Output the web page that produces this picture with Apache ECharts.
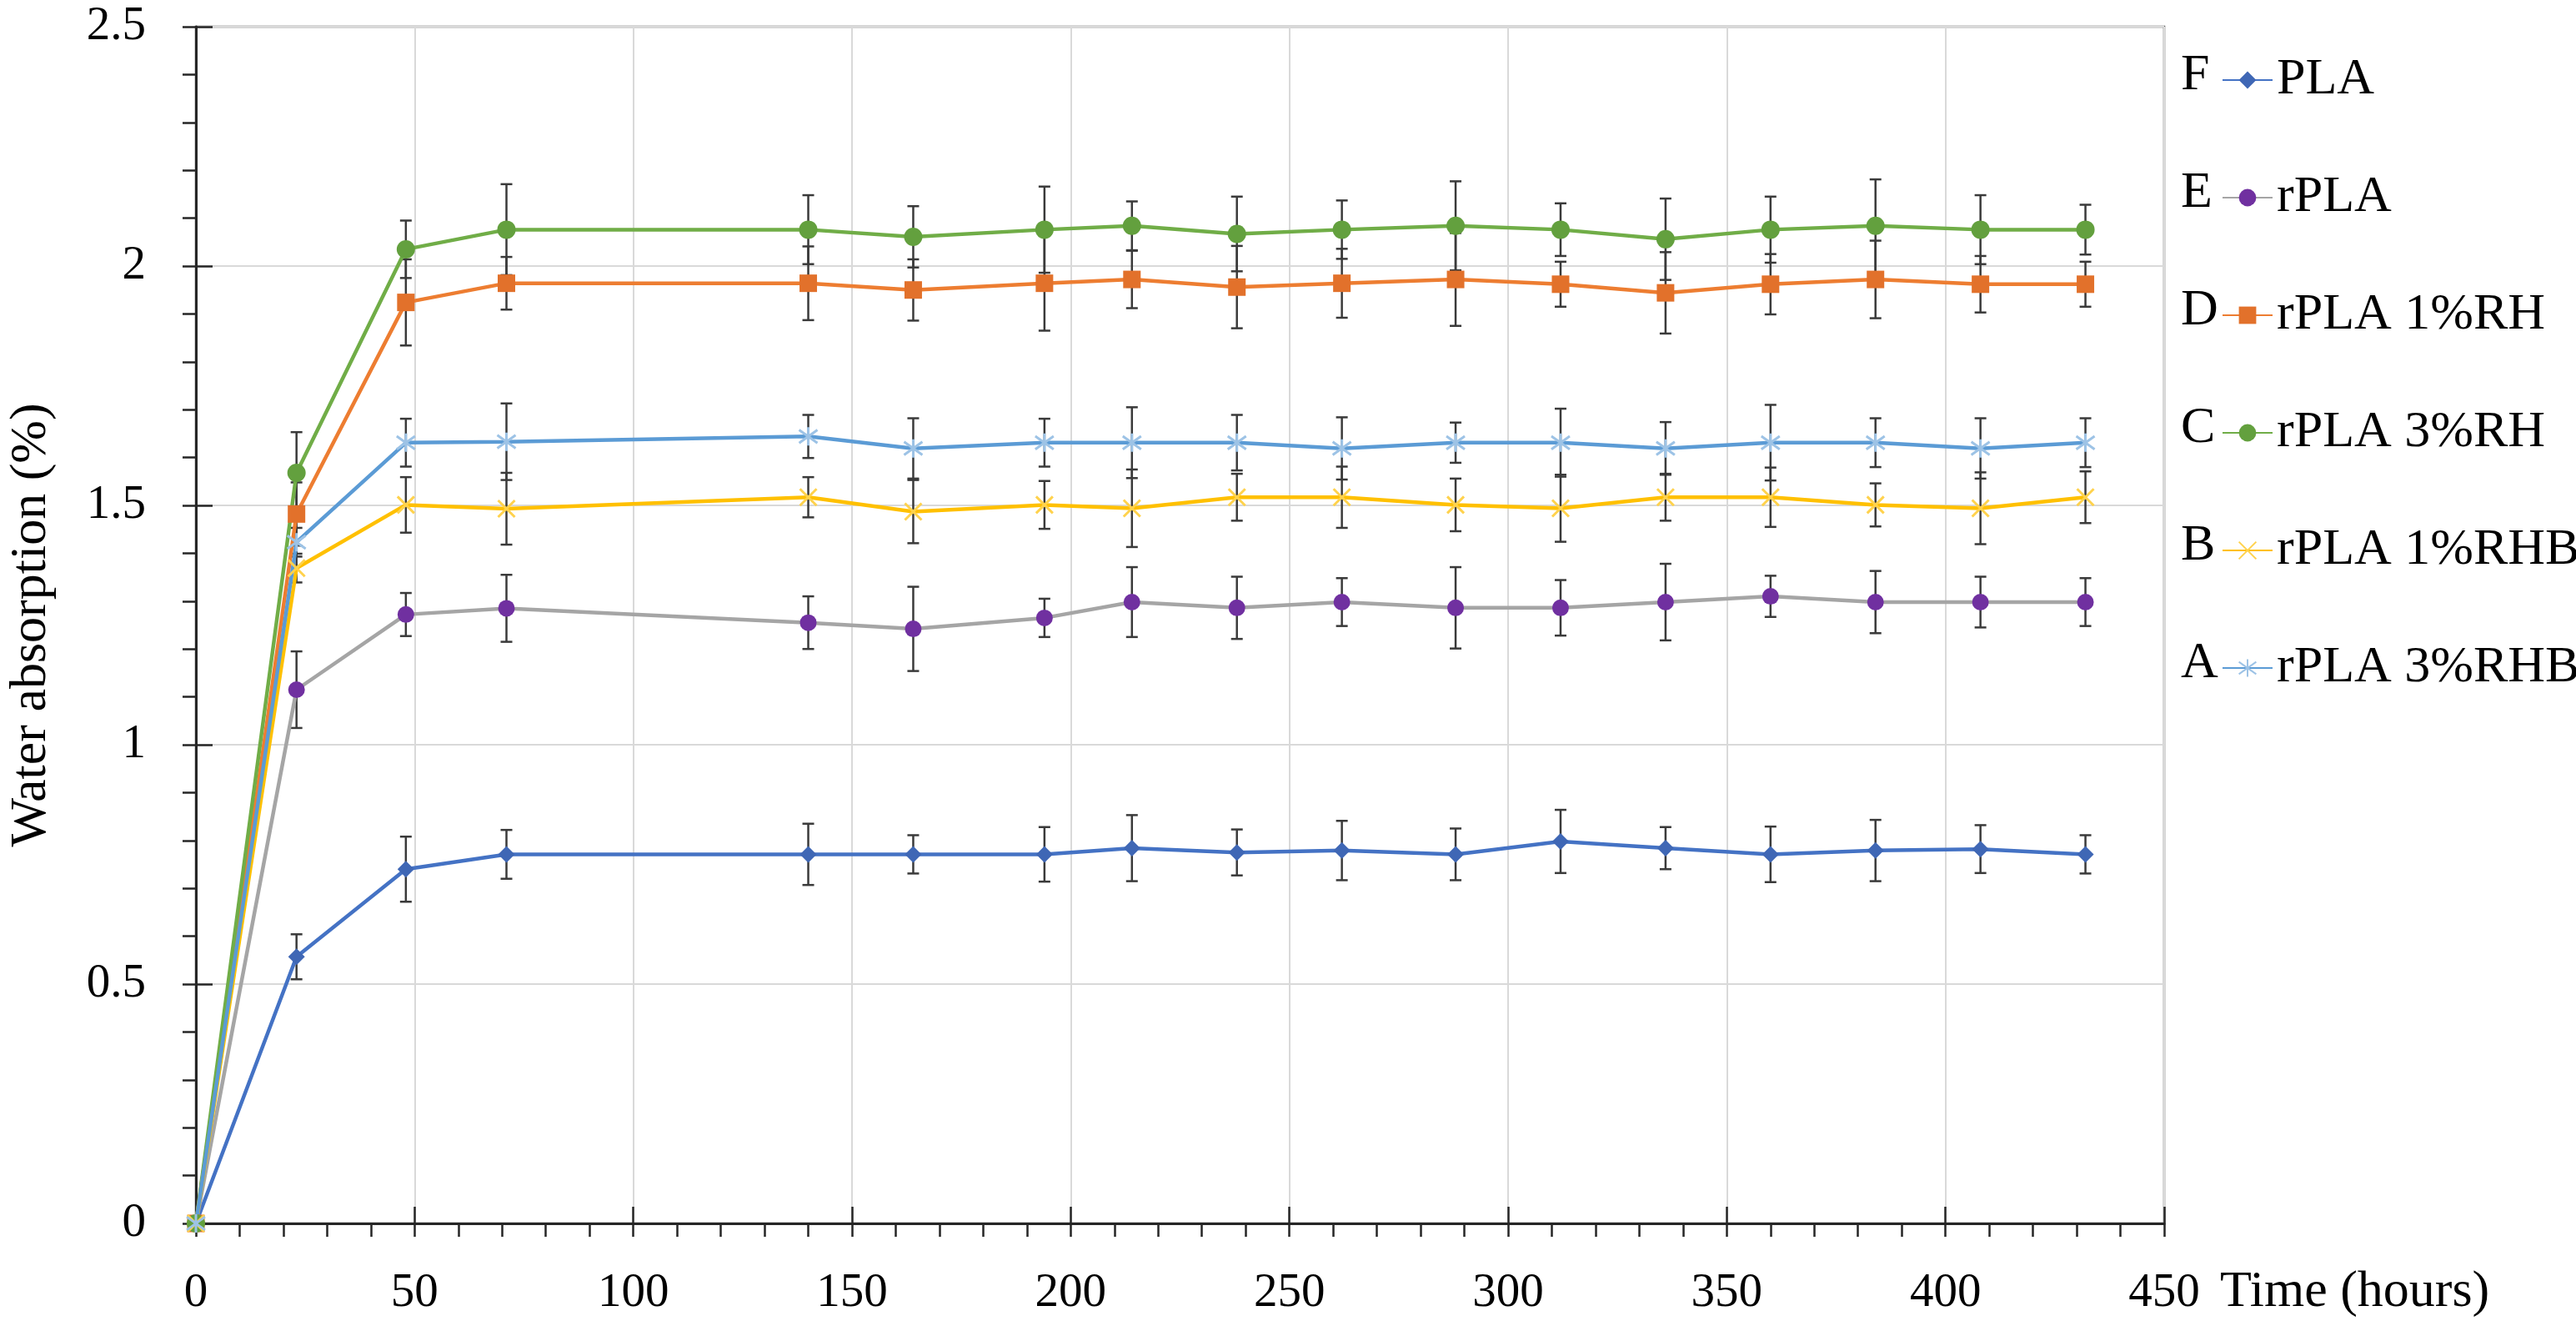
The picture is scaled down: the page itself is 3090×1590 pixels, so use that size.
<!DOCTYPE html>
<html>
<head>
<meta charset="utf-8">
<script src="https://cdn.jsdelivr.net/npm/echarts@6/dist/echarts.min.js"></script>
<style>
  html,body{margin:0;padding:0;background:#fff;}
  #main{width:3090px;height:1590px;}
</style>
</head>
<body>
<div id="main"></div>
<script>
var hours=[0,23,48,71,140,164,194,214,238,262,288,312,336,360,384,408,432];

var pla=[0,0.557,0.740,0.771,0.771,0.771,0.771,0.784,0.775,0.779,0.771,0.798,0.784,0.771,0.779,0.782,0.771];
var plaErr=[0,0.047,0.068,0.051,0.064,0.040,0.057,0.069,0.048,0.062,0.054,0.066,0.044,0.058,0.064,0.050,0.040];

var rpla=[0,1.115,1.272,1.285,1.255,1.242,1.265,1.298,1.286,1.298,1.286,1.286,1.298,1.310,1.298,1.298,1.298];
var rplaErr=[0,0.080,0.045,0.070,0.055,0.088,0.040,0.073,0.065,0.050,0.085,0.058,0.080,0.043,0.065,0.053,0.050];

var rh1=[0,1.482,1.924,1.964,1.964,1.950,1.964,1.972,1.956,1.964,1.972,1.962,1.944,1.962,1.972,1.962,1.962];
var rh1Err=[0,0.066,0.090,0.055,0.077,0.064,0.099,0.060,0.086,0.072,0.097,0.047,0.085,0.063,0.081,0.059,0.047];

var rh3=[0,1.568,2.035,2.076,2.076,2.061,2.076,2.084,2.067,2.076,2.084,2.076,2.056,2.076,2.084,2.076,2.076];
var rh3Err=[0,0.085,0.060,0.095,0.072,0.064,0.090,0.051,0.078,0.061,0.093,0.055,0.085,0.069,0.097,0.072,0.052];

var rhb1=[0,1.369,1.501,1.493,1.517,1.487,1.501,1.494,1.517,1.517,1.501,1.494,1.517,1.517,1.501,1.494,1.517];
var rhb1Err=[0,0.030,0.058,0.075,0.042,0.066,0.050,0.081,0.049,0.064,0.055,0.070,0.049,0.062,0.045,0.075,0.054];

var rhb3=[0,1.423,1.631,1.633,1.644,1.619,1.631,1.631,1.631,1.619,1.631,1.631,1.619,1.631,1.631,1.619,1.631];
var rhb3Err=[0,0.030,0.050,0.080,0.045,0.063,0.050,0.074,0.058,0.065,0.042,0.071,0.055,0.079,0.051,0.063,0.051];

var names=["PLA","rPLA","rPLA 1%RH","rPLA 3%RH","rPLA 1%RHB","rPLA 3%RHB"];
var letters=["F","E","D","C","B","A"];

var FONT="Liberation Serif";

function pairs(values){
    var out=[];
    for(var i=0;i<hours.length;i++){
        out.push([hours[i],values[i]]);
    }
    return out;
}

function lineSeries(name,values,lineColor,symbol,size,itemStyle){
    return {
        name:name,
        type:'line',
        z:3,
        data:pairs(values),
        symbol:symbol,
        symbolSize:size,
        lineStyle:{color:lineColor,width:4.5},
        itemStyle:itemStyle,
        emphasis:{disabled:true}
    };
}

function errorSeries(values,errs){
    var data=[];
    for(var i=0;i<hours.length;i++){
        if(errs[i]>0){
            data.push([hours[i],values[i]-errs[i],values[i]+errs[i]]);
        }
    }
    return {
        type:'custom',
        z:2,
        silent:true,
        encode:{x:0,y:[1,2]},
        data:data,
        renderItem:function(params,api){
            var lo=api.coord([api.value(0),api.value(1)]);
            var hi=api.coord([api.value(0),api.value(2)]);
            var w=7;
            var st={stroke:'#3a3a3a',lineWidth:2.5};
            return {type:'group',children:[
                {type:'line',shape:{x1:hi[0],y1:hi[1],x2:lo[0],y2:lo[1]},style:st},
                {type:'line',shape:{x1:hi[0]-w,y1:hi[1],x2:hi[0]+w,y2:hi[1]},style:st},
                {type:'line',shape:{x1:lo[0]-w,y1:lo[1],x2:lo[0]+w,y2:lo[1]},style:st}
            ]};
        }
    };
}

var crossPath='path://M0,0L10,10M10,0L0,10';
var starPath='path://M0,0L10,10M10,0L0,10M5,-2L5,12';

var legendTop=60;
var legendStep=141;

var letterTexts=[];
letters.forEach(function(l,i){
    letterTexts.push({
        type:'text',
        left:2616,
        top:legendTop+i*legendStep,
        style:{text:l,font:'62px "'+FONT+'"',fill:'#000'}
    });
});

var myChart=echarts.init(document.getElementById('main'));
var option={
    animation:false,
    backgroundColor:'#fff',
    textStyle:{fontFamily:FONT},
    grid:{left:235,right:494,top:32,bottom:123,outerBoundsMode:'none',containLabel:false,
        show:true,borderColor:'#595959',borderWidth:2.5},
    legend:{
        data:names,
        orient:'vertical',
        left:2660,
        top:legendTop,
        itemWidth:60,
        itemHeight:26,
        itemGap:79,
        textStyle:{fontSize:62,fontFamily:FONT,color:'#000'}
    },
    graphic:letterTexts,
    xAxis:[{
        type:'value',
        position:'bottom',
        min:0,max:450,interval:50,
        axisLine:{lineStyle:{color:'#262626',width:3}},
        axisTick:{inside:false,length:16,lineStyle:{color:'#262626',width:2.5}},
        minorTick:{show:true,splitNumber:5,length:16,lineStyle:{color:'#262626',width:2.5}},
        splitLine:{show:true,lineStyle:{color:'#d9d9d9',width:2}},
        axisLabel:{fontSize:57,margin:56,color:'#000',fontFamily:FONT},
        name:'Time (hours)',
        nameLocation:'end',
        nameGap:67,
        nameTextStyle:{fontSize:62,color:'#000',fontFamily:FONT,verticalAlign:'top',padding:[52,0,0,0]}
    },{
        type:'value',
        position:'bottom',
        min:0,max:450,interval:50,
        axisLine:{show:false},
        axisTick:{inside:true,length:20,lineStyle:{color:'#262626',width:2.5}},
        axisLabel:{show:false},
        splitLine:{show:false}
    }],
    yAxis:[{
        type:'value',
        position:'left',
        min:0,max:2.5,interval:0.5,
        axisLine:{show:true,lineStyle:{color:'#262626',width:3}},
        axisTick:{show:true,inside:false,length:16,lineStyle:{color:'#262626',width:2.5}},
        minorTick:{show:true,splitNumber:5,length:16,lineStyle:{color:'#262626',width:2.5}},
        splitLine:{show:true,lineStyle:{color:'#d9d9d9',width:2}},
        axisLabel:{fontSize:57,margin:60,color:'#000',fontFamily:FONT},
        name:'Water absorption (%)',
        nameLocation:'middle',
        nameGap:166,
        nameTextStyle:{fontSize:62,color:'#000',fontFamily:FONT}
    },{
        type:'value',
        position:'left',
        min:0,max:2.5,interval:0.5,
        axisLine:{show:false},
        axisTick:{show:true,inside:true,length:20,lineStyle:{color:'#262626',width:2.5}},
        axisLabel:{show:false},
        splitLine:{show:false}
    }],
    series:[
        errorSeries(pla,plaErr),
        errorSeries(rpla,rplaErr),
        errorSeries(rh1,rh1Err),
        errorSeries(rh3,rh3Err),
        errorSeries(rhb1,rhb1Err),
        errorSeries(rhb3,rhb3Err),
        lineSeries(names[0],pla,'#4472C4','diamond',20,{color:'#3F67B5'}),
        lineSeries(names[1],rpla,'#A5A5A5','circle',20,{color:'#7030A0'}),
        lineSeries(names[2],rh1,'#ED7D31','rect',21,{color:'#E2712B'}),
        lineSeries(names[3],rh3,'#70AD47','circle',22,{color:'#63A03E'}),
        lineSeries(names[4],rhb1,'#FFC000',crossPath,20,{color:'transparent',borderColor:'#FFD24D',borderWidth:3}),
        lineSeries(names[5],rhb3,'#5B9BD5',starPath,22,{color:'transparent',borderColor:'#9DC3E6',borderWidth:3})
    ]
};
myChart.setOption(option);
</script>
</body>
</html>
